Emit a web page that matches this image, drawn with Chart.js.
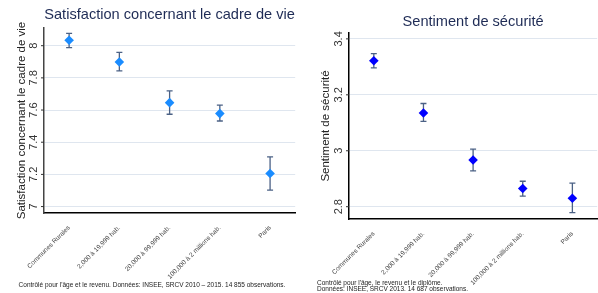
<!DOCTYPE html>
<html>
<head>
<meta charset="utf-8">
<script src="https://cdn.jsdelivr.net/npm/chart.js@4"></script>
<style>
    html, body { margin: 0; padding: 0; background: #fff; overflow: hidden; width: 598px; height: 293px; }
    #left { position: absolute; left: 0; top: 0; width: 300px; height: 293px; }
    #right { position: absolute; left: 300px; top: 0; width: 302px; height: 293px; }
</style>
</head>
<body>
<div id="left"><canvas id="satisfactionChart"></canvas></div>
<div id="right"><canvas id="securityChart"></canvas></div>
<script>
// -------------------------------------------------------------------------
// Data
// -------------------------------------------------------------------------
const categories = ['Communes Rurales', '2,000 à 19,999 hab.', '20,000 à 99,999 hab.', '100,000 à 2 millions hab.', 'Paris'];

const satisfactionMean = [8.034, 7.899, 7.646, 7.578, 7.206];
const satisfactionLow = [7.988, 7.843, 7.574, 7.532, 7.102];
const satisfactionHigh = [8.077, 7.959, 7.719, 7.630, 7.309];
const satisfactionTicks = [7, 7.2, 7.4, 7.6, 7.8, 8];

const securityMean = [3.322, 3.135, 2.967, 2.865, 2.830];
const securityLow = [3.296, 3.105, 2.928, 2.838, 2.779];
const securityHigh = [3.347, 3.169, 3.006, 2.891, 2.884];
const securityTicks = [2.8, 3, 3.2, 3.4];

const FONT = '"Liberation Sans", Arial, sans-serif';

// -------------------------------------------------------------------------
// Plugin: error bars, rotated y tick labels, titles, notes
// -------------------------------------------------------------------------
const stataDecor = {
    id: 'stataDecor',
    beforeDatasetsDraw(chart) {
        const o = chart.options.plugins.stataDecor;
        const { ctx } = chart;
        const x = chart.scales.x;
        const y = chart.scales.y;
        ctx.save();
        ctx.strokeStyle = '#4b6185';
        ctx.lineWidth = 1.3;
        o.low.forEach((lo, i) => {
            const px = x.getPixelForValue(i);
            const y1 = y.getPixelForValue(lo);
            const y2 = y.getPixelForValue(o.high[i]);
            ctx.beginPath();
            ctx.moveTo(px, y1); ctx.lineTo(px, y2);
            ctx.moveTo(px - 3, y1); ctx.lineTo(px + 3, y1);
            ctx.moveTo(px - 3, y2); ctx.lineTo(px + 3, y2);
            ctx.stroke();
        });
        ctx.restore();
    },
    afterDraw(chart) {
        const o = chart.options.plugins.stataDecor;
        const { ctx, chartArea } = chart;
        const y = chart.scales.y;
        ctx.save();

        // y tick marks and rotated labels
        ctx.strokeStyle = '#333';
        ctx.lineWidth = 1;
        ctx.fillStyle = '#333';
        ctx.font = '11px ' + FONT;
        ctx.textAlign = 'center';
        ctx.textBaseline = 'bottom';
        o.ticks.forEach(v => {
            const py = y.getPixelForValue(v);
            ctx.beginPath();
            ctx.moveTo(chartArea.left - 3, py);
            ctx.lineTo(chartArea.left, py);
            ctx.stroke();
            ctx.save();
            ctx.translate(chartArea.left - 5, py);
            ctx.rotate(-Math.PI / 2);
            ctx.fillText(String(v), 0, 0);
            ctx.restore();
        });

        // y axis title
        ctx.save();
        ctx.font = '11.5px ' + FONT;
        ctx.fillStyle = '#222';
        ctx.textBaseline = 'middle';
        ctx.translate(o.yTitleX, (chartArea.top + chartArea.bottom) / 2);
        ctx.rotate(-Math.PI / 2);
        ctx.fillText(o.yTitle, 0, 0);
        ctx.restore();

        // chart title
        ctx.font = '14.6px ' + FONT;
        ctx.fillStyle = '#1e2b55';
        ctx.textAlign = 'center';
        ctx.textBaseline = 'middle';
        ctx.fillText(o.title, (chartArea.left + chartArea.right) / 2, o.titleY);

        // notes
        ctx.font = '6.5px ' + FONT;
        ctx.fillStyle = '#222';
        ctx.textAlign = o.noteAlign;
        o.notes.forEach((line, i) => ctx.fillText(line, o.noteX, o.noteY + i * 6.5));
        ctx.restore();
    }
};

function makeChart(canvasId, cfg) {
    return new Chart(document.getElementById(canvasId), {
        type: 'line',
        data: {
            labels: categories,
            datasets: [{
                data: cfg.mean,
                showLine: false,
                pointStyle: 'rectRot',
                pointRadius: 4.8,
                pointHoverRadius: 4.8,
                pointBackgroundColor: cfg.color,
                pointBorderColor: cfg.color,
                pointBorderWidth: 0
            }]
        },
        options: {
            responsive: true,
            maintainAspectRatio: false,
            animation: false,
            events: [],
            layout: { padding: { top: cfg.top, left: 0, right: 0, bottom: 0 } },
            plugins: {
                legend: { display: false },
                tooltip: { enabled: false },
                stataDecor: {
                    low: cfg.low,
                    high: cfg.high,
                    ticks: cfg.ticks,
                    title: cfg.title,
                    titleY: cfg.titleY,
                    yTitle: cfg.yTitle,
                    yTitleX: cfg.yTitleX,
                    notes: cfg.notes,
                    noteX: cfg.noteX,
                    noteY: cfg.noteY,
                    noteAlign: cfg.noteAlign
                }
            },
            scales: {
                x: {
                    offset: true,
                    grid: { display: false },
                    border: { color: '#000', width: 1.5 },
                    ticks: {
                        minRotation: 45,
                        maxRotation: 45,
                        autoSkip: false,
                        padding: 3,
                        color: '#444',
                        font: { family: FONT, size: 6.5 }
                    },
                    afterFit: s => { s.height = cfg.xHeight; }
                },
                y: {
                    min: cfg.min,
                    max: cfg.max,
                    afterBuildTicks: s => { s.ticks = cfg.ticks.map(v => ({ value: v })); },
                    grid: { color: '#dfe6ef', lineWidth: 1, drawTicks: false },
                    border: { color: cfg.axisColor, width: 1.5 },
                    ticks: { display: false },
                    afterFit: s => { s.width = cfg.yWidth; }
                }
            }
        },
        plugins: [stataDecor]
    });
}

makeChart('satisfactionChart', {
    mean: satisfactionMean, low: satisfactionLow, high: satisfactionHigh, ticks: satisfactionTicks,
    min: 6.96, max: 8.11, color: '#1a8cff', axisColor: '#444',
    top: 28, xHeight: 80, yWidth: 44,
    title: 'Satisfaction concernant le cadre de vie', titleY: 15,
    yTitle: 'Satisfaction concernant le cadre de vie', yTitleX: 22,
    notes: ['Contrôlé pour l\'âge et le revenu. Données: INSEE, SRCV 2010 – 2015. 14 855 observations.'],
    noteX: 152, noteY: 285, noteAlign: 'center'
});

makeChart('securityChart', {
    mean: securityMean, low: securityLow, high: securityHigh, ticks: securityTicks,
    min: 2.756, max: 3.421, color: '#0000ff', axisColor: '#000',
    top: 33, xHeight: 74, yWidth: 49,
    title: 'Sentiment de sécurité', titleY: 22,
    yTitle: 'Sentiment de sécurité', yTitleX: 26,
    notes: ['Contrôlé pour l\'âge, le revenu et le diplôme.', 'Données: INSEE, SRCV 2013. 14 687 observations.'],
    noteX: 17, noteY: 283, noteAlign: 'left'
});
</script>
</body>
</html>
